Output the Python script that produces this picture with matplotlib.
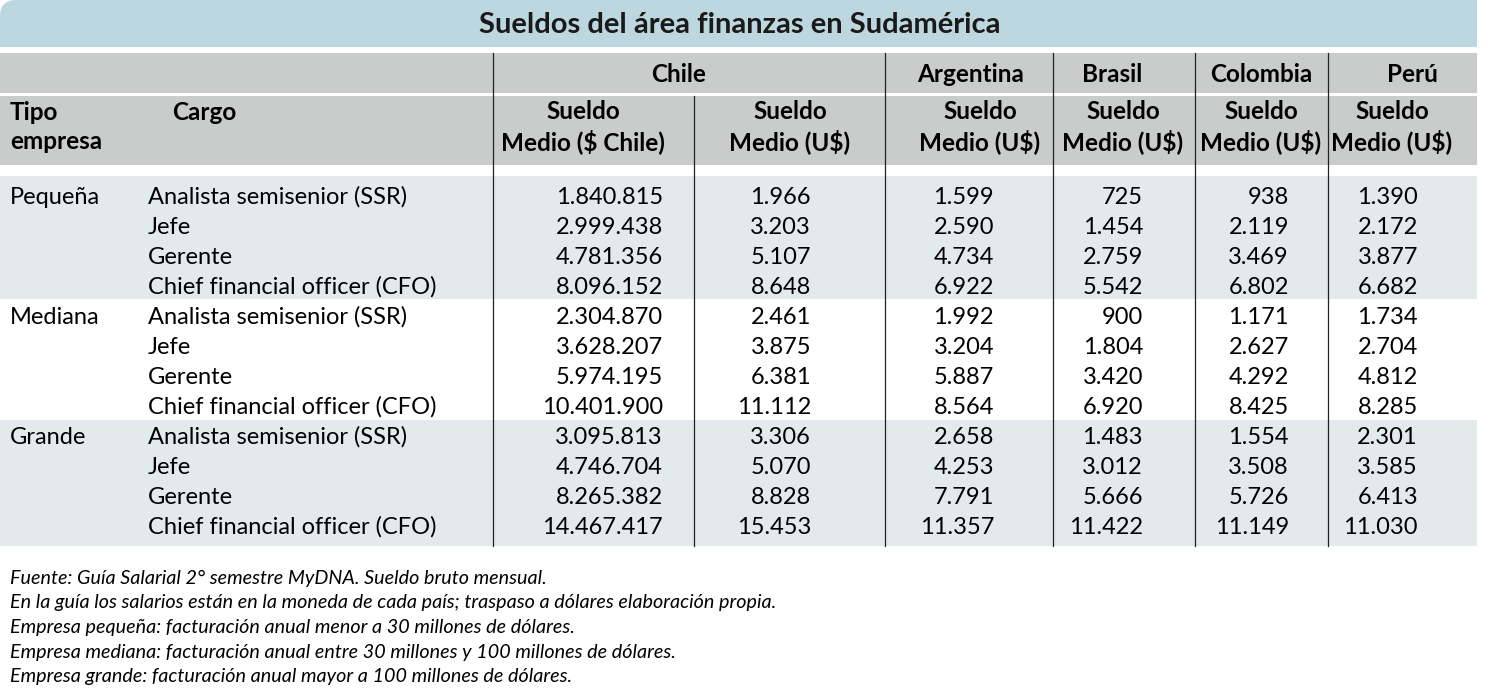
import matplotlib.pyplot as plt
from matplotlib.patches import FancyBboxPatch, Rectangle

title = 'Sueldos del área finanzas en Sudamérica'
countries = ['Chile', 'Argentina', 'Brasil', 'Colombia', 'Perú']
col_heads = ['Sueldo\nMedio ($ Chile)', 'Sueldo\nMedio (U$)', 'Sueldo\nMedio (U$)',
             'Sueldo\nMedio (U$)', 'Sueldo\nMedio (U$)', 'Sueldo\nMedio (U$)']
tipos = ['Pequeña', 'Mediana', 'Grande']
cargos = ['Analista semisenior (SSR)', 'Jefe', 'Gerente', 'Chief financial officer (CFO)']

chile_clp = ['1.840.815', '2.999.438', '4.781.356', '8.096.152',
             '2.304.870', '3.628.207', '5.974.195', '10.401.900',
             '3.095.813', '4.746.704', '8.265.382', '14.467.417']
chile_usd = ['1.966', '3.203', '5.107', '8.648',
             '2.461', '3.875', '6.381', '11.112',
             '3.306', '5.070', '8.828', '15.453']
argentina = ['1.599', '2.590', '4.734', '6.922',
             '1.992', '3.204', '5.887', '8.564',
             '2.658', '4.253', '7.791', '11.357']
brasil = ['725', '1.454', '2.759', '5.542',
          '900', '1.804', '3.420', '6.920',
          '1.483', '3.012', '5.666', '11.422']
colombia = ['938', '2.119', '3.469', '6.802',
            '1.171', '2.627', '4.292', '8.425',
            '1.554', '3.508', '5.726', '11.149']
peru = ['1.390', '2.172', '3.877', '6.682',
        '1.734', '2.704', '4.812', '8.285',
        '2.301', '3.585', '6.413', '11.030']

notes = ['Fuente: Guía Salarial 2° semestre MyDNA. Sueldo bruto mensual.',
         'En la guía los salarios están en la moneda de cada país; traspaso a dólares elaboración propia.',
         'Empresa pequeña: facturación anual menor a 30 millones de dólares.',
         'Empresa mediana: facturación anual entre 30 millones y 100 millones de dólares.',
         'Empresa grande: facturación anual mayor a 100 millones de dólares.']

# layout (pixels)
W, H = 1488, 689
right = 1477
vlines = [493, 694, 885, 1053, 1195, 1328]
val_right = [663, 811, 994, 1143, 1289, 1418]
head_center = [583, 790, 980, 1123, 1261, 1392]
country_center = [679, 971, 1112, 1261, 1412]
row0, row_h = 197, 30

band_blue = '#bdd7e0'
head_gray = '#c9cccb'
light = '#e2eaec'
FONT = ['Lato', 'DejaVu Sans']
FS = 17
FS_HEAD = 17.5

fig = plt.figure(figsize=(W / 100, H / 100), dpi=100)
ax = fig.add_axes([0, 0, 1, 1])
ax.set_xlim(0, W)
ax.set_ylim(H, 0)
ax.axis('off')

# title band, rounded top-left corner only
ax.add_patch(FancyBboxPatch((0, 0), right, 47, boxstyle='round,pad=0,rounding_size=16',
                            fc=band_blue, ec='none'))
ax.add_patch(Rectangle((0, 20), right, 27, fc=band_blue, ec='none'))
ax.add_patch(Rectangle((right - 20, 0), 20, 47, fc=band_blue, ec='none'))
ax.text(740, 25, title, ha='center', va='center', fontsize=21, fontweight='bold',
        family=FONT, color='#1a1a1a')

# header rows
ax.add_patch(Rectangle((0, 53), right, 40, fc=head_gray, ec='none'))
ax.add_patch(Rectangle((0, 96), right, 69, fc=head_gray, ec='none'))

# group bands (Pequeña and Grande shaded)
ax.add_patch(Rectangle((0, 176), right, 123, fc=light, ec='none'))
ax.add_patch(Rectangle((0, 420), right, 126, fc=light, ec='none'))

# vertical lines
for i, x in enumerate(vlines):
    y_top = 96 if i == 1 else 53
    ax.plot([x, x], [y_top, 546], color='#222222', lw=0.9)

# header text
for name, cx in zip(countries, country_center):
    ax.text(cx, 75, name, ha='center', va='center', fontsize=FS_HEAD, fontweight='bold',
            family=FONT)
ax.text(10, 127, 'Tipo\nempresa', ha='left', va='center', fontsize=FS_HEAD, fontweight='bold',
        family=FONT, linespacing=1.3)
ax.text(172, 113, 'Cargo', ha='left', va='center', fontsize=FS_HEAD, fontweight='bold',
        family=FONT)
for h, cx in zip(col_heads, head_center):
    ax.text(cx, 127, h, ha='center', va='center', fontsize=FS_HEAD, fontweight='bold',
            family=FONT, linespacing=1.3)

# data rows
cols = [chile_clp, chile_usd, argentina, brasil, colombia, peru]
for g, tipo in enumerate(tipos):
    ax.text(10, row0 + g * 4 * row_h, tipo, ha='left', va='center', fontsize=FS, family=FONT)
    for j, cargo in enumerate(cargos):
        y = row0 + (g * 4 + j) * row_h
        ax.text(148, y, cargo, ha='left', va='center', fontsize=FS, family=FONT)
for col, xr in zip(cols, val_right):
    for k, v in enumerate(col):
        ax.text(xr, row0 + k * row_h, v, ha='right', va='center', fontsize=FS, family=FONT)

# footnotes
for k, line in enumerate(notes):
    ax.text(10, 578 + k * 24.7, line, ha='left', va='center', fontsize=14.2,
            style='italic', family=FONT)

fig.savefig('out.png', dpi=100)
